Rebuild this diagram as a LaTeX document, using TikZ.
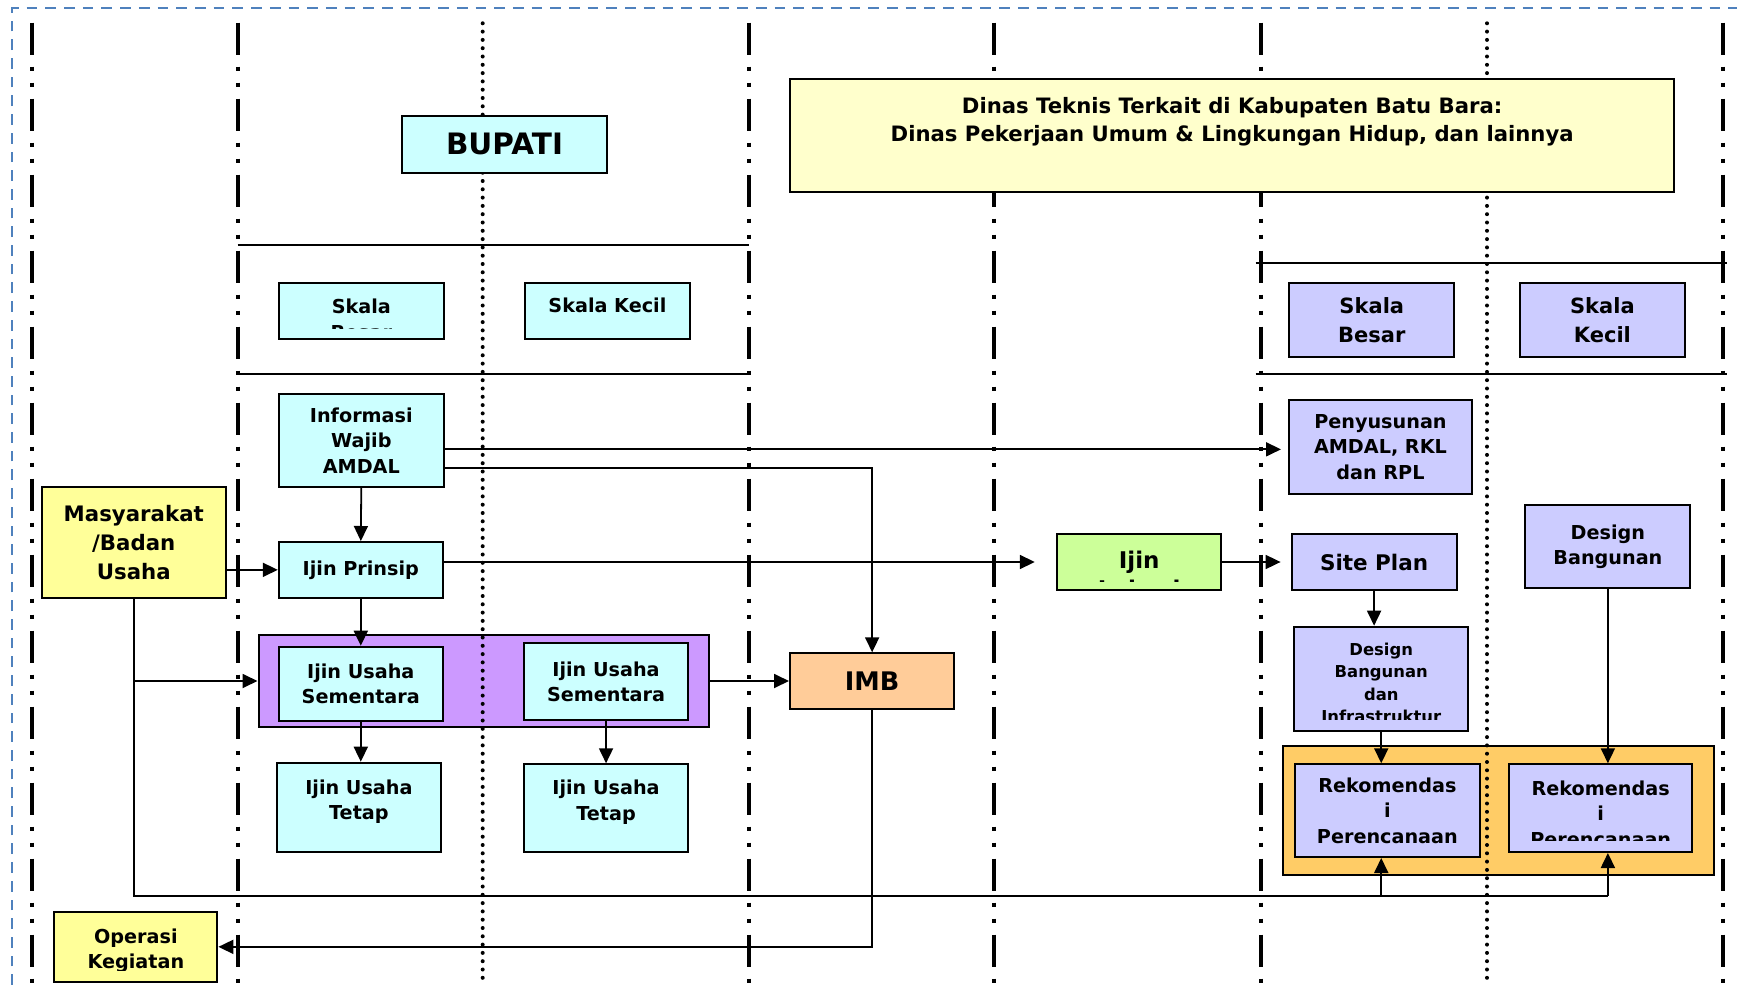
\documentclass[tikz,border=0pt]{standalone}
\usepackage{fontspec}
\setmainfont{DejaVu Sans}
\usetikzlibrary{arrows.meta}
\definecolor{cyanbx}{HTML}{CCFFFF}
\definecolor{yellowbx}{HTML}{FFFF99}
\definecolor{creambx}{HTML}{FFFFCC}
\definecolor{purplebx}{HTML}{CC99FF}
\definecolor{orangebx}{HTML}{FFCC99}
\definecolor{goldbx}{HTML}{FFCC66}
\definecolor{lilacbx}{HTML}{CCCCFF}
\definecolor{greenbx}{HTML}{CCFF99}
\definecolor{edgeblue}{HTML}{4F81BD}
\newcommand\sz[2]{\bfseries\fontsize{#1pt}{#2pt}\selectfont}
\tikzstyle{chart}=[x=0.5pt,y=-0.5pt,>={Triangle[length=7.5pt,width=7pt]}]
\tikzstyle{box}=[draw=black,line width=1pt,inner sep=0pt,align=center,anchor=north west,font=\sz{9.6}{12.7}]
\tikzstyle{txt}=[inner sep=0pt,align=center,anchor=north,font=\sz{9.6}{12.7}]
\tikzstyle{lane}=[line width=2pt,dash pattern=on 16pt off 6pt on 2pt off 6pt on 2pt off 6pt]
\tikzstyle{dotlane}=[line width=2pt,line cap=round,dash pattern=on 0pt off 4.15pt]
\tikzstyle{hsep}=[line width=0.85pt]
\tikzstyle{wire}=[line width=0.9pt]
\tikzstyle{lnk}=[wire,->]

\begin{document}
\begin{tikzpicture}[chart]
  \useasboundingbox (0,0) rectangle (1737,985);
  \draw[edgeblue,line width=1.15pt,dash pattern=on 5.35pt off 4pt] (12.3,985) -- (12.3,8.3) -- (1737,8.3);
  % containers under the lanes
  \node[box,fill=purplebx,minimum width=225pt,minimum height=46pt] (purple) at (257.5,634) {};
  \node[box,fill=goldbx,minimum width=215.55pt,minimum height=64.65pt] (gold) at (1282.2,745) {};
  % lanes
  \foreach \x in {32.3,237.5,748.5,994.3,1261.2,1723.3}
    {\draw[lane] (\x,22.7) -- (\x,985);}
  \foreach \x in {482.7,1487}
    {\draw[dotlane] (\x,23.3) -- (\x,985);}
  \foreach \y in {245,374}
    {\draw[hsep] (237.5,\y) -- (748.5,\y);}
  \foreach \y in {263.3,374}
    {\draw[hsep] (1255.6,\y) -- (1727,\y);}
  % Bupati
  \node[box,fill=cyanbx,minimum width=102.5pt,minimum height=28.35pt,font=\sz{14.75}{17}] (bupati) at (401,115) {BUPATI};
  \node[box,fill=cyanbx,minimum width=82.5pt,minimum height=28.15pt] (skb) at (277.8,281.7) {};
  \begin{scope}
    \clip (skb.north west) rectangle ([yshift=6pt]skb.south east);
    \node[txt] (skbt) at ([yshift=-8.5pt]skb.north) {Skala\\Besar};
  \end{scope}
  \node[box,fill=cyanbx,minimum width=82.5pt,minimum height=28.15pt,text depth=5.5pt] (skk) at (523.9,281.7) {Skala Kecil};
  \node[box,fill=cyanbx,minimum width=82.5pt,minimum height=46.65pt] (info) at (277.8,392.7) {Informasi\\Wajib\\AMDAL};
  \node[box,fill=cyanbx,minimum width=82pt,minimum height=27.85pt] (prinsip) at (277.8,541) {Ijin Prinsip};
  \node[box,fill=cyanbx,minimum width=82pt,minimum height=37.15pt] (ius1) at (277.8,645.7) {Ijin Usaha\\Sementara};
  \node[box,fill=cyanbx,minimum width=81.85pt,minimum height=38.5pt] (ius2) at (523.2,642.3) {Ijin Usaha\\Sementara};
  \node[box,fill=cyanbx,minimum width=82.1pt,minimum height=44.65pt,text depth=7.8pt] (iut1) at (275.8,761.7) {Ijin Usaha\\Tetap};
  \node[box,fill=cyanbx,minimum width=81.85pt,minimum height=43.85pt,text depth=7.8pt] (iut2) at (523.2,763.3) {Ijin Usaha\\Tetap};
  % Masyarakat
  \node[box,fill=yellowbx,minimum width=92.25pt,minimum height=55.35pt,font=\sz{10.65}{14.4}] (masy) at (40.5,486) {Masyarakat\\/Badan\\Usaha};
  \node[box,fill=yellowbx,minimum width=81.55pt,minimum height=34.85pt] (opr) at (53.3,911) {};
  \begin{scope}
    \clip (opr.north west) rectangle ([yshift=6pt]opr.south east);
    \node[txt] (oprt) at ([yshift=-8.6pt]opr.north) {Operasi\\Kegiatan};
  \end{scope}
  \node[box,fill=orangebx,minimum width=82.15pt,minimum height=27.7pt,font=\sz{12.8}{15}] (imb) at (789,652.3) {IMB};
  % Dinas teknis
  \node[box,fill=creambx,minimum width=442.15pt,minimum height=56.2pt] (dinas) at (789,78.3) {};
  \node[txt,font=\sz{10.6}{14.15}] (dinast) at ([yshift=-9.2pt]dinas.north)
    {Dinas Teknis Terkait di Kabupaten Batu Bara:\\Dinas Pekerjaan Umum \& Lingkungan Hidup, dan lainnya};
  \node[box,fill=greenbx,minimum width=81.8pt,minimum height=28pt] (ijin) at (1056.4,533) {};
  \begin{scope}
    \clip (ijin.north west) rectangle ([yshift=5pt]ijin.south east);
    \node[txt,font=\sz{11.5}{14.4}] (ijint) at ([yshift=-8.9pt]ijin.north) {Ijin\\Lokasi};
  \end{scope}
  \node[box,fill=lilacbx,minimum width=82.5pt,minimum height=37.15pt,font=\sz{10.5}{14.5}] (sbr) at (1288.3,281.7) {Skala\\Besar};
  \node[box,fill=lilacbx,minimum width=82.5pt,minimum height=37.15pt,font=\sz{10.5}{14.5}] (skr) at (1518.9,281.7) {Skala\\Kecil};
  \node[box,fill=lilacbx,minimum width=91.65pt,minimum height=46.85pt] (pen) at (1287.8,399) {Penyusunan\\AMDAL, RKL\\dan RPL};
  \node[box,fill=lilacbx,minimum width=82.5pt,minimum height=28pt,font=\sz{10.75}{13}] (site) at (1290.6,533) {Site Plan};
  \node[box,fill=lilacbx,minimum width=82.5pt,minimum height=41.65pt] (db) at (1524.4,504) {Design\\Bangunan};
  \node[box,fill=lilacbx,minimum width=86.95pt,minimum height=52.15pt] (dbi) at (1293.3,625.7) {};
  \begin{scope}
    \clip (dbi.north west) rectangle ([yshift=6.5pt]dbi.south east);
    \node[txt,font=\sz{8.2}{11.2}] (dbit) at ([yshift=-8.5pt]dbi.north) {Design\\Bangunan\\dan\\Infrastruktur};
  \end{scope}
  \node[box,fill=lilacbx,minimum width=92.5pt,minimum height=46.35pt] (rek1) at (1293.9,763.3) {Rekomendas\\i\\Perencanaan};
  \node[box,fill=lilacbx,minimum width=91.4pt,minimum height=43.85pt] (rek2) at (1508.3,763.3) {};
  \begin{scope}
    \clip (rek2.north west) rectangle ([yshift=6.25pt]rek2.south east);
    \node[txt] (rek2t) at ([yshift=-8.6pt]rek2.north) {Rekomendas\\i\\Perencanaan};
  \end{scope}
  % connectors
  \coordinate (i1) at ([yshift=-4.5pt]info.east);
  \coordinate (i2) at ([yshift=-13.65pt]info.east);
  \coordinate (bus) at (0,895.7);
  \draw[lnk,shorten >=3.4pt] (i1) -- (i1 -| pen.west);
  \draw[lnk] (i2) -| (imb.north);
  \draw[lnk] (info.south) -- (prinsip.north);
  \draw[lnk] (masy.east |- prinsip.west) -- (prinsip.west);
  \draw[lnk,shorten >=10.8pt] (prinsip.east |- ijin.west) -- (ijin.west);
  \draw[lnk,shorten >=5pt] (ijin.east) -- (site.west);
  \draw[lnk] (prinsip.south) -- (ius1.north);
  \draw[lnk] (masy.south |- purple.west) -- (purple.west);
  \draw[lnk] (purple.east) -- (imb.west);
  \draw[lnk] (ius1.south) -- (ius1.south |- iut1.north);
  \draw[lnk] (ius2.south) -- (ius2.south |- iut2.north);
  \draw[lnk] (imb.south) |- (opr.east);
  \draw[lnk] (site.south) -- (site.south |- dbi.north);
  \draw[lnk] (dbi.south) -- (dbi.south |- rek1.north);
  \draw[lnk] (db.south) -- (db.south |- rek2.north);
  \draw[wire] (masy.south) |- (db.south |- bus);
  \draw[lnk] (dbi.south |- bus) -- (dbi.south |- rek1.south);
  \draw[lnk] (db.south |- bus) -- (db.south |- rek2.south);
\end{tikzpicture}
\end{document}
